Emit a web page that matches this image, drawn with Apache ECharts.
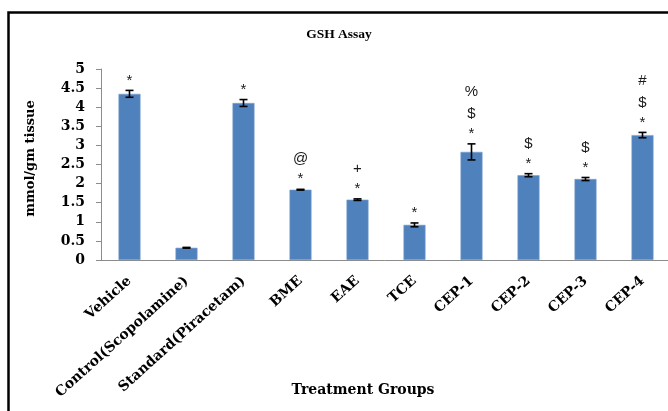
<!DOCTYPE html>
<html>
<head>
<meta charset="utf-8">
<script src="https://cdn.jsdelivr.net/npm/echarts@6/dist/echarts.min.js"></script>
<style>
  html, body { margin: 0; padding: 0; background: #fff; }
  #chart { width: 668px; height: 411px; }
</style>
</head>
<body>
<div id="chart"></div>
<script>
// Treatment groups on the category axis
const categories = ['Vehicle', 'Control(Scopolamine)', 'Standard(Piracetam)', 'BME', 'EAE', 'TCE', 'CEP-1', 'CEP-2', 'CEP-3', 'CEP-4'];
// Mean GSH level (mmol/gm tissue) per group
const gshMean = [4.35, 0.32, 4.11, 1.84, 1.58, 0.92, 2.83, 2.22, 2.12, 3.27];
// Standard error of the mean per group
const gshSem = [0.09, 0.01, 0.09, 0.01, 0.02, 0.05, 0.21, 0.04, 0.04, 0.07];
// Significance symbols, listed from the error bar upwards
const sigMarks = [['*'], [], ['*'], ['*', '@'], ['*', '+'], ['*'], ['*', '$', '%'], ['*', '$'], ['*', '$'], ['*', '$', '#']];
// Value axis range and step
const yMin = 0, yMax = 5, yStep = 0.5;

const axisFont = 'DejaVu Serif';
const markOffsets = [10, 30, 52];    // vertical distance of each stacked symbol above the error-bar top
const capHalf = 4;

const chart = echarts.init(document.getElementById('chart'), null, { renderer: 'canvas' });

chart.setOption({
  animation: false,
  backgroundColor: '#fff',
  title: {
    text: 'GSH Assay',
    left: 334,
    top: 23,
    textAlign: 'center',
    textStyle: { fontFamily: 'Liberation Serif', fontWeight: 'bold', fontSize: 13.5, color: '#000' }
  },
  grid: { left: 101, top: 69, width: 570, height: 191, containLabel: false, outerBoundsMode: 'none' },
  xAxis: {
    type: 'category',
    data: categories,
    name: 'Treatment Groups',
    nameLocation: 'middle',
    nameMoveOverlap: false,
    nameGap: 123,
    nameTextStyle: { fontFamily: axisFont, fontWeight: 'bold', fontSize: 14, color: '#000', padding: [0, 46, 0, 0] },
    axisLine: { lineStyle: { color: '#8c8c8c', width: 1 } },
    axisTick: { alignWithLabel: false, length: 5, lineStyle: { color: '#8c8c8c' } },
    axisLabel: {
      interval: 0,
      rotate: 42,
      margin: 19,
      fontFamily: axisFont,
      fontWeight: 'bold',
      fontSize: 14,
      color: '#000'
    }
  },
  yAxis: {
    type: 'value',
    min: yMin,
    max: yMax,
    interval: yStep,
    name: 'mmol/gm tissue',
    nameLocation: 'middle',
    nameMoveOverlap: false,
    nameRotate: 90,
    nameGap: 64,
    nameTextStyle: { fontFamily: axisFont, fontWeight: 'bold', fontSize: 13, color: '#000', padding: [0, 0, 0, 12] },
    splitLine: { show: false },
    axisLine: { show: true, lineStyle: { color: '#8c8c8c', width: 1 } },
    axisTick: { show: true, length: 5, lineStyle: { color: '#8c8c8c' } },
    axisLabel: {
      margin: 16,
      fontFamily: axisFont,
      fontWeight: 'bold',
      fontSize: 14,
      color: '#000'
    }
  },
  series: [
    {
      type: 'bar',
      data: gshMean,
      barWidth: 22,
      itemStyle: { color: '#4f81bd', borderColor: '#7aa0cf', borderWidth: 0.6 }
    },
    {
      type: 'custom',
      clip: false,
      z: 5,
      data: categories.map((c, i) => [i, gshMean[i], gshSem[i]]),
      renderItem: function (params, api) {
        const i = api.value(0);
        const mean = api.value(1);
        const sem = api.value(2);
        const top = api.coord([i, mean + sem]);
        const bot = api.coord([i, mean - sem]);
        const x = top[0];
        const lineStyle = { stroke: '#000', lineWidth: 1.6 };
        const children = [
          { type: 'line', shape: { x1: x, y1: top[1], x2: x, y2: bot[1] }, style: lineStyle },
          { type: 'line', shape: { x1: x - capHalf, y1: top[1], x2: x + capHalf, y2: top[1] }, style: lineStyle },
          { type: 'line', shape: { x1: x - capHalf, y1: bot[1], x2: x + capHalf, y2: bot[1] }, style: lineStyle }
        ];
        sigMarks[params.dataIndex].forEach(function (m, k) {
          children.push({
            type: 'text',
            x: x,
            y: top[1] - markOffsets[k],
            style: {
              text: m,
              fontFamily: 'Liberation Sans',
              fontSize: 15,
              fill: '#1a1a1a',
              align: 'center',
              verticalAlign: 'middle'
            }
          });
        });
        return { type: 'group', children: children };
      }
    }
  ],
  graphic: [
    {
      type: 'rect',
      shape: { x: 8.5, y: 12.5, width: 700, height: 450 },
      style: { fill: 'none', stroke: '#000', lineWidth: 2.5 },
      silent: true
    }
  ]
});
</script>
</body>
</html>
